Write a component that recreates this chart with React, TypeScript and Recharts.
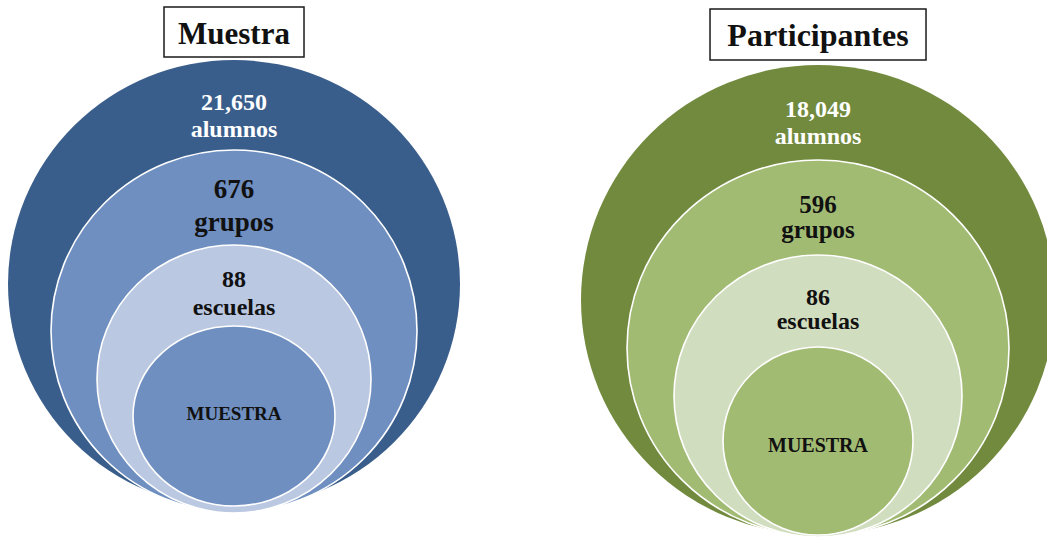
import React from "react";
import { ScatterChart, Scatter, XAxis, YAxis } from "recharts";

const panelTitles = ["Muestra", "Participantes"];
const levelUnits = ["alumnos", "grupos", "escuelas"];
const coreLabel = "MUESTRA";
const muestraCounts = [21650, 676, 88];
const participantesCounts = [18049, 596, 86];

const WIDTH = 1047;
const HEIGHT = 539;
const FONT = '"Liberation Serif", "DejaVu Serif", serif';

const PALETTES = [
  ["#3a5e8b", "#6f8fc1", "#bac8e1", "#6f8fc1"],
  ["#728a3e", "#a2bb73", "#d1ddbf", "#a2bb73"],
];

// ring geometry (px) per panel, outermost first; bottoms nearly tangent
const LAYOUT = [
  {
    rings: [
      { rx: 226, ry: 224, bottom: 508 },
      { rx: 183, ry: 181, bottom: 512 },
      { rx: 137, ry: 134, bottom: 513 },
      { rx: 101, ry: 90, bottom: 506 },
    ],
    baselines: [[110, 137], [198, 231], [287, 315], [420]],
    fonts: [24, 27, 24, 19],
    box: { w: 140, top: 7, h: 50, font: 31, baseline: 44 },
  },
  {
    rings: [
      { rx: 237, ry: 235, bottom: 535 },
      { rx: 191, ry: 188, bottom: 536 },
      { rx: 144, ry: 141, bottom: 537 },
      { rx: 95, ry: 94, bottom: 535 },
    ],
    baselines: [[117, 144], [213, 238], [305, 329], [452]],
    fonts: [24, 25, 24, 20],
    box: { w: 216, top: 9, h: 51, font: 32, baseline: 46 },
  },
];

const buildRows = (panel: number, counts: number[]) =>
  [0, 1, 2, 3].map((level) => ({
    panel,
    level,
    value: level < counts.length ? counts[level] : null,
    unit: level < levelUnits.length ? levelUnits[level] : coreLabel,
  }));

const muestraRows = buildRows(0, muestraCounts);
const participantesRows = buildRows(1, participantesCounts);

const RingShape = (props: any) => {
  const { cx, payload } = props;
  const { panel, level, value, unit } = payload;
  const layout = LAYOUT[panel];
  const ring = layout.rings[level];
  const lines = layout.baselines[level];
  const fontSize = layout.fonts[level];
  const textColor = level === 0 ? "#ffffff" : "#111111";
  const texts = value == null ? [unit] : [value.toLocaleString("en-US"), unit];
  const box = layout.box;

  return (
    <g>
      <ellipse
        cx={cx}
        cy={ring.bottom - ring.ry}
        rx={ring.rx}
        ry={ring.ry}
        fill={PALETTES[panel][level]}
        stroke={level === 0 ? "none" : "#ffffff"}
        strokeWidth={1.6}
      />
      {texts.map((t: string, i: number) => (
        <text
          key={i}
          x={cx}
          y={lines[i]}
          textAnchor="middle"
          fontFamily={FONT}
          fontWeight="bold"
          fontSize={fontSize}
          fill={textColor}
        >
          {t}
        </text>
      ))}
      {level === 0 && (
        <g>
          <rect
            x={cx - box.w / 2}
            y={box.top}
            width={box.w}
            height={box.h}
            fill="#ffffff"
            stroke="#1a1a1a"
            strokeWidth={1.5}
          />
          <text
            x={cx}
            y={box.baseline}
            textAnchor="middle"
            fontFamily={FONT}
            fontWeight="bold"
            fontSize={box.font}
            fill="#111111"
          >
            {panelTitles[panel]}
          </text>
        </g>
      )}
    </g>
  );
};

export default function App() {
  return (
    <div style={{ position: "absolute", left: 0, top: 0, width: WIDTH, height: HEIGHT, background: "#ffffff" }}>
      <ScatterChart width={WIDTH} height={HEIGHT} margin={{ top: 0, right: 0, bottom: 0, left: 0 }}>
        {/* panel index 0 sits at x≈234, panel 1 at x≈818 */}
        <XAxis type="number" dataKey="panel" domain={[-0.4007, 1.3921]} hide />
        <YAxis type="number" dataKey="level" domain={[0, 3]} hide />
        <Scatter data={muestraRows} shape={RingShape} isAnimationActive={false} />
        <Scatter data={participantesRows} shape={RingShape} isAnimationActive={false} />
      </ScatterChart>
    </div>
  );
}
